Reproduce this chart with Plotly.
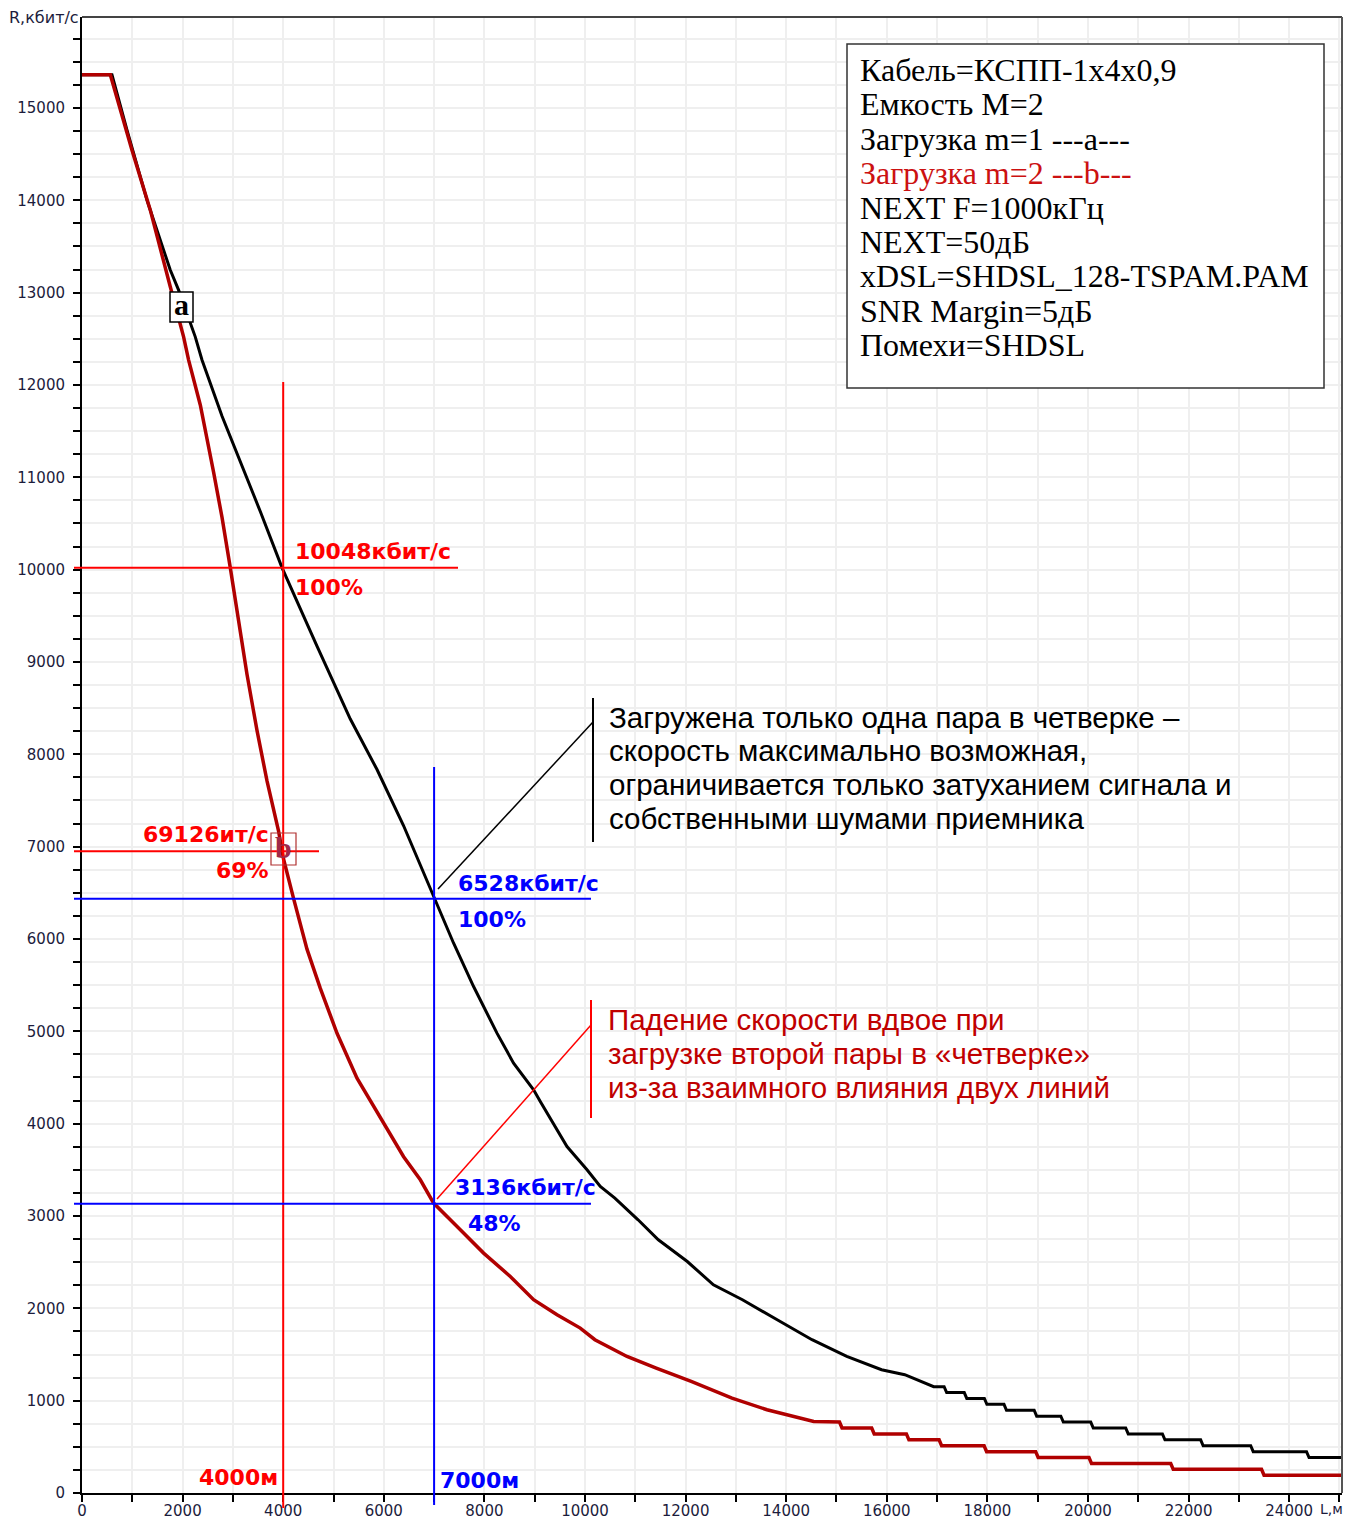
import plotly.graph_objects as go

# ---------------- data ----------------
a_L = [0, 596, 895, 1292, 1755, 1921, 2252, 2386, 2783, 3280, 3545, 3976, 4672, 5334, 5865, 6394, 7000,
       7388, 7785, 8250, 8580, 8978, 9111, 9642, 10040, 10304, 10594, 11055, 11458, 12034, 12553, 13130,
       13821, 14513, 15204, 15896, 16357, 16933, 17140, 17190, 17540, 17590, 17940, 17990, 18330, 18380,
       18930, 18980, 19460, 19510, 20055, 20105, 20750, 20800, 21480, 21530, 22240, 22290, 23235, 23285,
       24345, 24395, 25050]
a_R = [15360, 15360, 14759, 14002, 13244, 13027, 12521, 12271, 11663, 10994, 10629, 10022, 9171, 8382, 7835,
       7226, 6441, 5954, 5485, 4980, 4655, 4366, 4240, 3752, 3500, 3319, 3193, 2959, 2742, 2507, 2255, 2093,
       1876, 1660, 1479, 1335, 1281, 1152, 1152, 1088, 1088, 1024, 1024, 960, 960, 896, 896, 832, 832, 768,
       768, 704, 704, 640, 640, 576, 576, 512, 512, 448, 448, 384, 384]

b_L = [0, 563, 994, 1358, 1755, 2020, 2120, 2352, 2617, 2783, 2948, 3082, 3280, 3479, 3678, 3909, 4008, 4207,
       4473, 4738, 5070, 5467, 5865, 6394, 6726, 6990, 7521, 7984, 8515, 8978, 9444, 9906, 10197, 10835,
       11416, 12111, 12922, 13618, 14547, 15060, 15110, 15700, 15750, 16390, 16440, 17040, 17090, 17935,
       17985, 18960, 19010, 20020, 20070, 21645, 21695, 23450, 23500, 25050]
b_R = [15360, 15360, 14543, 13893, 13063, 12521, 12269, 11783, 11054, 10568, 10022, 9535, 8866, 8259, 7712,
       7166, 6863, 6437, 5890, 5465, 4979, 4493, 4128, 3642, 3392, 3140, 2851, 2598, 2345, 2093, 1930, 1786,
       1660, 1479, 1353, 1208, 1028, 902, 775, 768, 704, 704, 640, 640, 576, 576, 512, 512, 448, 448, 384,
       384, 320, 320, 256, 256, 192, 192]

ref_L = [4000, 7000]                 # marked distances
ref_R_red = [10020, 6950]            # red horizontal marker levels
ref_R_blue = [6435, 3132]            # blue horizontal marker levels
label_rate_red = ["10048кбит/с", "69126ит/с"]
label_pct_red = ["100%", "69%"]
label_rate_blue = ["6528кбит/с", "3136кбит/с"]
label_pct_blue = ["100%", "48%"]
label_dist = ["4000м", "7000м"]

legend_lines = ["Кабель=КСПП-1х4х0,9", "Емкость M=2", "Загрузка m=1 ---a---", "Загрузка m=2 ---b---",
                "NEXT F=1000кГц", "NEXT=50дБ", "xDSL=SHDSL_128-TSPAM.PAM", "SNR Margin=5дБ", "Помехи=SHDSL"]

note_black = ["Загружена только одна пара в четверке –", "скорость максимально возможная,",
              "ограничивается только затуханием сигнала и", "собственными шумами приемника"]
note_red = ["Падение скорости вдвое при", "загрузке второй пары в «четверке»",
            "из-за взаимного влияния двух линий"]

# ---------------- layout geometry (page pixels; page has an 8px body margin) ----------------
OFF = 8
W, H = 1354 - OFF, 1520 - OFF
X0, X1, Y0, Y1 = 82, 1342, 17, 1493       # plot area in page pixels
ML, MR, MT, MB = X0 - OFF, W - (X1 - OFF), Y0 - OFF, H - (Y1 - OFF)
L_MAX, R_MAX = 25050, 15985
PW, PH = X1 - X0, Y1 - Y0


def px(xp):
    return (xp - X0) / PW


def py(yp):
    return (Y1 - yp) / PH


def dx(v):
    return v / L_MAX


def dy(v):
    return v / R_MAX


TICKC = "#1c1c3c"
RED = "#ff0000"
BLUE = "#0000ff"

fig = go.Figure()
fig.add_trace(go.Scatter(x=a_L, y=a_R, mode="lines", line=dict(color="#000000", width=3), name="a"))
fig.add_trace(go.Scatter(x=b_L, y=b_R, mode="lines", line=dict(color="#b00000", width=3.5), name="b"))

shapes = []
# red marker lines
shapes.append(dict(type="line", xref="paper", yref="paper", x0=dx(ref_L[0]), x1=dx(ref_L[0]),
                   y0=py(1508), y1=py(382), line=dict(color=RED, width=2)))
shapes.append(dict(type="line", xref="paper", yref="paper", x0=px(74), x1=px(458),
                   y0=dy(ref_R_red[0]), y1=dy(ref_R_red[0]), line=dict(color=RED, width=2)))
shapes.append(dict(type="line", xref="paper", yref="paper", x0=px(74), x1=px(319),
                   y0=dy(ref_R_red[1]), y1=dy(ref_R_red[1]), line=dict(color=RED, width=2)))
# blue marker lines
shapes.append(dict(type="line", xref="paper", yref="paper", x0=dx(ref_L[1]), x1=dx(ref_L[1]),
                   y0=py(1505), y1=py(767), line=dict(color=BLUE, width=2)))
for v in ref_R_blue:
    shapes.append(dict(type="line", xref="paper", yref="paper", x0=px(74), x1=px(591),
                       y0=dy(v), y1=dy(v), line=dict(color=BLUE, width=2)))
# callout lines
shapes.append(dict(type="line", xref="paper", yref="paper", x0=px(593), x1=px(593), y0=py(698), y1=py(842),
                   line=dict(color="black", width=2)))
shapes.append(dict(type="line", xref="paper", yref="paper", x0=px(438), x1=px(593), y0=py(889), y1=py(722),
                   line=dict(color="black", width=1.5)))
shapes.append(dict(type="line", xref="paper", yref="paper", x0=px(591), x1=px(591), y0=py(1000), y1=py(1118),
                   line=dict(color=RED, width=2)))
shapes.append(dict(type="line", xref="paper", yref="paper", x0=px(437), x1=px(591), y0=py(1199), y1=py(1025),
                   line=dict(color=RED, width=1.5)))
# legend box
shapes.append(dict(type="rect", xref="paper", yref="paper", x0=px(847), x1=px(1324), y0=py(388), y1=py(44),
                   line=dict(color="#333333", width=1.5), fillcolor="white"))
# curve label boxes
shapes.append(dict(type="rect", xref="paper", yref="paper", x0=px(170), x1=px(193), y0=py(322), y1=py(292),
                   line=dict(color="black", width=1.5), fillcolor="white"))
shapes.append(dict(type="rect", xref="paper", yref="paper", x0=px(271), x1=px(296), y0=py(865), y1=py(833),
                   line=dict(color="#b03030", width=1.2)))
# frame top/right
shapes.append(dict(type="line", xref="paper", yref="paper", x0=0, x1=1, y0=1, y1=1,
                   line=dict(color="#444444", width=2)))
shapes.append(dict(type="line", xref="paper", yref="paper", x0=1, x1=1, y0=0, y1=1,
                   line=dict(color="#555555", width=2)))

ann = []


def text(t, xp, yp, color, size, family, bold=False, xanchor="left"):
    ann.append(dict(text=("<b>%s</b>" % t) if bold else t, xref="paper", yref="paper", x=px(xp), y=py(yp),
                    xanchor=xanchor, yanchor="middle", showarrow=False, borderpad=0,
                    font=dict(color=color, size=size, family=family)))


BF = "DejaVu Sans"
text(label_rate_red[0], 294, 551, RED, 22, BF, True)
text(label_pct_red[0], 294, 587, RED, 22, BF, True)
text(label_rate_red[1], 270, 834, RED, 22, BF, True, "right")
text(label_pct_red[1], 270, 870, RED, 22, BF, True, "right")
text(label_rate_blue[0], 457, 883, BLUE, 22, BF, True)
text(label_pct_blue[0], 457, 919, BLUE, 22, BF, True)
text(label_rate_blue[1], 454, 1187, BLUE, 22, BF, True)
text(label_pct_blue[1], 467, 1223, BLUE, 22, BF, True)
text(label_dist[0], 279, 1477, RED, 22, BF, True, "right")
text(label_dist[1], 439, 1480, BLUE, 22, BF, True)

for i, t in enumerate(legend_lines):
    text(t, 859, 70 + 34.4 * i, "#cc1111" if i == 3 else "#000000", 32, "Liberation Serif")

for i, t in enumerate(note_black):
    text(t, 608, 717 + 33.7 * i, "#000000", 29.5, "Liberation Sans")
for i, t in enumerate(note_red):
    text(t, 607, 1019 + 34 * i, "#c00000", 29.5, "Liberation Sans")

text("<b>a</b>", 181.5, 305, "#000000", 30, "Liberation Serif", False, "center")
text("<b>b</b>", 283.5, 847, "#a02848", 30, "Liberation Serif", False, "center")

# axis titles
text("R,кбит/с", 80, 18, TICKC, 16, "DejaVu Sans", False, "right")
text("L,м", 1344, 1509, TICKC, 14, "DejaVu Sans", False, "right")

fig.update_layout(
    width=W, height=H, margin=dict(l=ML, r=MR, t=MT, b=MB, autoexpand=False),
    paper_bgcolor="white", plot_bgcolor="white", showlegend=False,
    shapes=shapes, annotations=ann,
    xaxis=dict(range=[0, L_MAX], tick0=0, dtick=2000, ticks="outside", ticklen=7, tickwidth=1.5,
               tickcolor="black", showline=True, linecolor="black", linewidth=2, tickformat="d",
               ticklabelstandoff=-4,
               showgrid=True, gridcolor="#efefef", gridwidth=1.5, zeroline=False,
               tickfont=dict(family="DejaVu Sans", size=15, color=TICKC),
               minor=dict(dtick=1000, ticks="outside", ticklen=7, tickwidth=1.5, tickcolor="black",
                          showgrid=True, gridcolor="#efefef", gridwidth=1.5)),
    yaxis=dict(range=[0, R_MAX], tick0=0, dtick=1000, ticks="outside", ticklen=7, tickwidth=1.5,
               tickcolor="black", showline=True, linecolor="black", linewidth=2, tickformat="d",
               ticklabelstandoff=5,
               showgrid=True, gridcolor="#efefef", gridwidth=1.5, zeroline=False,
               tickfont=dict(family="DejaVu Sans", size=15, color=TICKC),
               minor=dict(dtick=250, ticks="outside", ticklen=7, tickwidth=1.5, tickcolor="black",
                          showgrid=True, gridcolor="#efefef", gridwidth=1.5)),
)

fig.write_html("out.html")
